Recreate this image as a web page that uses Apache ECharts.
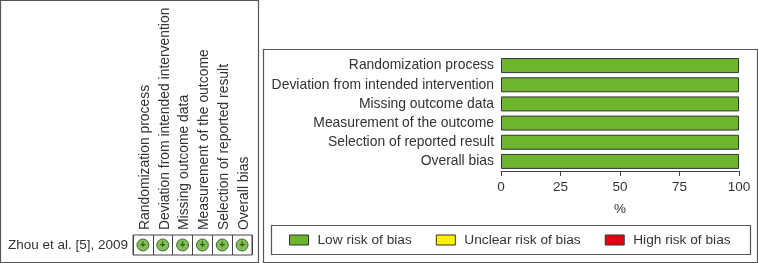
<!DOCTYPE html>
<html><head><meta charset="utf-8">
<style>html,body{margin:0;padding:0;background:#fff}#c{width:758px;height:263px}</style>
<script src="https://cdn.jsdelivr.net/npm/echarts@6/dist/echarts.min.js"></script>
</head><body><div id="c"></div>
<script>
const domains = ['Randomization process','Deviation from intended intervention','Missing outcome data','Measurement of the outcome','Selection of reported result','Overall bias'];
const studies = ['Zhou et al. [5], 2009'];
const judgments = ['+','+','+','+','+','+'];
const lowRisk = [100,100,100,100,100,100];
const unclearRisk = [0,0,0,0,0,0];
const highRisk = [0,0,0,0,0,0];
const ticks = [0,25,50,75,100];
const FONT = '"Liberation Sans", Arial, sans-serif';
const TXT = '#333333', LINE = '#444444';
const GREEN = '#6cb52d', YELLOW = '#fff200', RED = '#e60012';
const chart = echarts.init(document.getElementById('c'), null, {renderer:'canvas'});
const box = (x,y,w,h) => ({type:'rect',silent:true,z:-1,shape:{x:x+.5,y:y+.5,width:w,height:h},style:{fill:'#fff',stroke:'#555555',lineWidth:1.2}});
const barSeries = (name,data,color) => ({name,type:'bar',stack:'r',xAxisIndex:0,yAxisIndex:0,data:data.map(v=>v===0?null:v),barWidth:15,
  itemStyle:{color,borderColor:'#333333',borderWidth:1}});
chart.setOption({
  animation:false,
  textStyle:{fontFamily:FONT,color:TXT},
  graphic:[box(0,0,258,262),box(263,49,494,213),box(271,225,479,29)],
  legend:{left:289,top:233,padding:0,itemWidth:19,itemHeight:10,itemGap:24,icon:'rect',selectedMode:false,
    itemStyle:{borderWidth:1,borderColor:'#333333'},
    textStyle:{fontFamily:FONT,fontSize:13.7,color:TXT,padding:[0,0,0,4]},
    data:['Low risk of bias','Unclear risk of bias','High risk of bias']},
  grid:[
    {left:501,top:56,width:238,height:115,containLabel:false},
    {left:133,top:235,width:119,height:20,show:true,borderColor:LINE,borderWidth:1,backgroundColor:'transparent'}
  ],
  xAxis:[
    {gridIndex:0,type:'value',min:0,max:100,interval:25,name:'%',nameLocation:'middle',nameGap:31,
     nameTextStyle:{fontSize:13.5,color:TXT,fontFamily:FONT},
     axisLine:{show:true,lineStyle:{color:LINE}},axisTick:{show:true,length:5,lineStyle:{color:LINE}},
     splitLine:{show:false},
     axisLabel:{fontSize:13.5,color:TXT,margin:9,fontFamily:FONT,hideOverlap:false,showMinLabel:true,showMaxLabel:true,
       customValues:ticks}},
    {gridIndex:1,type:'category',position:'top',data:domains,
     axisLine:{show:false},axisTick:{show:false},
     splitLine:{show:true,lineStyle:{color:LINE}},
     axisLabel:{rotate:-90,interval:0,margin:5,fontSize:13.9,color:TXT,fontFamily:FONT,verticalAlign:'top',lineHeight:4}}
  ],
  yAxis:[
    {gridIndex:0,type:'category',inverse:true,data:domains,
     axisLine:{show:false},axisTick:{show:false},
     axisLabel:{fontSize:13.9,color:TXT,margin:7,interval:0,fontFamily:FONT}},
    {gridIndex:1,type:'category',data:studies,
     axisLine:{show:false},axisTick:{show:false},splitLine:{show:false},
     axisLabel:{fontSize:13.5,color:TXT,margin:5,fontFamily:FONT}}
  ],
  series:[
    barSeries('Low risk of bias',lowRisk,GREEN),
    barSeries('Unclear risk of bias',unclearRisk,YELLOW),
    barSeries('High risk of bias',highRisk,RED),
    {type:'scatter',xAxisIndex:1,yAxisIndex:1,symbol:'circle',symbolSize:12,
     data:domains.map((d,i)=>({value:[d,studies[0]],j:judgments[i]})),
     itemStyle:{color:'#63ad2a',borderColor:'#24521a',borderWidth:1},
     label:{show:true,position:'inside',formatter:p=>p.data.j,fontSize:10,fontWeight:'bold',color:'#1d3d10',fontFamily:FONT}}
  ]
});
</script></body></html>
